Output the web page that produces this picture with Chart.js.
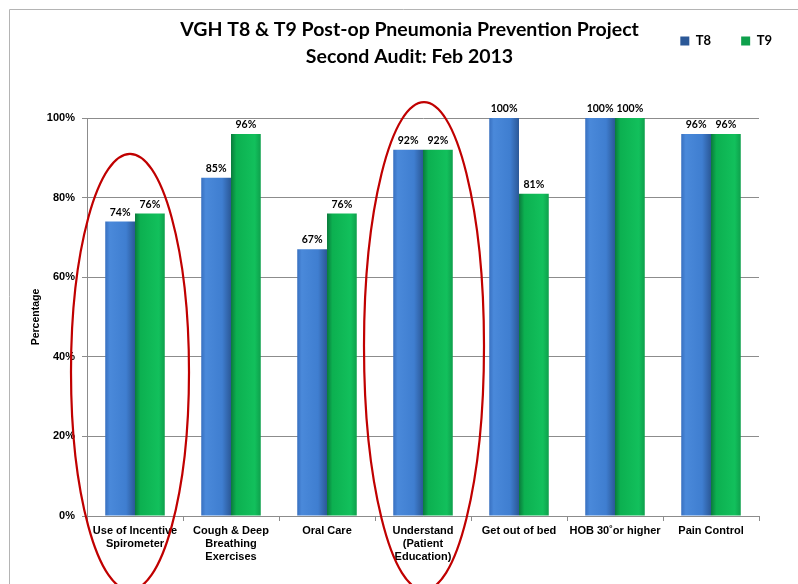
<!DOCTYPE html>
<html>
<head>
<meta charset="utf-8">
<script src="https://cdn.jsdelivr.net/npm/chart.js@4.4.0/dist/chart.umd.min.js"></script>
<style>
  html, body { margin: 0; padding: 0; background: #fff; }
  #wrap { width: 798px; height: 584px; }
</style>
</head>
<body>
<div id="wrap"><canvas id="myChart"></canvas></div>
<script>
/* ============== Data ===========*/

const categories = [
  ['Use of Incentive', 'Spirometer'],
  ['Cough & Deep', 'Breathing', 'Exercises'],
  'Oral Care',
  ['Understand', '(Patient', 'Education)'],
  'Get out of bed',
  'HOB 30˚or higher',
  'Pain Control'
];
const t8 = [74, 85, 67, 92, 100, 100, 96];
const t9 = [76, 96, 76, 92, 81, 100, 96];
const yTicks = [0, 20, 40, 60, 80, 100];
const circled = [0, 3];

/* ============== Plugins ===========*/

// thin frame round the chart, like the slide border
const frame = {
  id: 'frame',
  beforeDraw(chart) {
    const ctx = chart.ctx;
    ctx.save();
    ctx.strokeStyle = '#b4b4b4';
    ctx.lineWidth = 1;
    ctx.beginPath();
    ctx.moveTo(9.5, chart.height);
    ctx.lineTo(9.5, 9.5);
    ctx.lineTo(chart.width, 9.5);
    ctx.stroke();
    ctx.restore();
  }
};

// legend sits next to the title, title centred a bit right
const placeBoxes = {
  id: 'placeBoxes',
  afterLayout(chart) {
    const lg = chart.legend;
    const dy = lg.top - 4.5;
    lg.top -= dy;
    lg.bottom -= dy;
    lg.left += 43;
    lg.right += 43;
    const tb = chart.titleBlock;
    tb.left += 30;
    tb.right += 30;
  }
};

// percentages on top of bars
const barLabels = {
  id: 'barLabels',
  afterDatasetsDraw(chart) {
    const ctx = chart.ctx;
    ctx.save();
    ctx.font = 'bold 10.5px Lato';
    ctx.fillStyle = '#000';
    ctx.textAlign = 'center';
    ctx.textBaseline = 'bottom';
    chart.data.datasets.forEach((ds, i) => {
      chart.getDatasetMeta(i).data.forEach((bar, j) => {
        ctx.fillText(ds.data[j] + '%', bar.x, bar.y - 4);
      });
    });
    ctx.restore();
  }
};

// red hand-drawn ellipses round two categories
const ellipses = {
  id: 'ellipses',
  afterDraw(chart) {
    const ctx = chart.ctx;
    const x = chart.scales.x, y = chart.scales.y;
    const shape = [
      { dx: -5, rx: 59, top: 91 },
      { dx: 1, rx: 60, top: 104 }
    ];
    ctx.save();
    ctx.strokeStyle = '#c00000';
    ctx.lineWidth = 2.2;
    circled.forEach((idx, k) => {
      const s = shape[k];
      const top = y.getPixelForValue(s.top);
      const bottom = chart.height + 6;
      ctx.beginPath();
      ctx.ellipse(x.getPixelForValue(idx) + s.dx, (top + bottom) / 2, s.rx, (bottom - top) / 2, 0, 0, Math.PI * 2);
      ctx.stroke();
    });
    ctx.restore();
  }
};

// shaded bar fill, left to right across each bar
function barShade(stops, flat) {
  return (c) => {
    const el = c.element;
    if (!el || !isFinite(el.x) || !el.width) return flat;
    const g = c.chart.ctx.createLinearGradient(el.x - el.width / 2, 0, el.x + el.width / 2, 0);
    stops.forEach(s => g.addColorStop(s[0], s[1]));
    return g;
  };
}

/* ============== Chart ===========*/

const graf = document.getElementById('myChart');

const data = {
  labels: categories,
  datasets: [{
    label: 'T8',
    data: t8,
    backgroundColor: barShade([[0, '#3870c0'], [0.15, '#4a89da'], [0.7, '#3f7ed0'], [1, '#2b5897']], '#3f7dd0'),
    borderWidth: 0
  }, {
    label: 'T9',
    data: t9,
    backgroundColor: barShade([[0, '#0a7a3c'], [0.18, '#0cb050'], [0.8, '#12c05c'], [1, '#0ea04c']], '#06b352'),
    borderWidth: 0
  }]
};

const config = {
  type: 'bar',
  data,
  options: {
    responsive: true,
    maintainAspectRatio: false,
    animation: false,
    layout: { padding: { left: 0, right: 39, top: 0, bottom: 0 } },
    datasets: {
      bar: { categoryPercentage: 0.62, barPercentage: 1.0 }
    },
    plugins: {
      title: {
        display: true,
        text: ['VGH T8 & T9 Post-op Pneumonia Prevention Project', 'Second Audit: Feb 2013'],
        color: '#000',
        font: { family: 'Lato', size: 19.5, weight: 'bold', lineHeight: 1.385 },
        // legend box is stacked under the title, keep plot top at 118
        padding: { top: 16.5, bottom: -5.5 }
      },
      legend: {
        position: 'top',
        align: 'end',
        labels: {
          boxWidth: 9,
          boxHeight: 9,
          padding: 30,
          color: '#000',
          font: { family: 'Lato', size: 13, weight: 'bold' }
        }
      },
      tooltip: { enabled: false }
    },
    scales: {
      x: {
        afterFit: s => { s.height = 68; },
        grid: { drawOnChartArea: false, tickLength: 5, color: '#8c8c8c' },
        border: { color: '#8c8c8c' },
        ticks: {
          padding: 3,
          color: '#000',
          maxRotation: 0,
          autoSkip: false,
          font: { family: 'Liberation Sans', size: 11, weight: 'bold', lineHeight: 1.2 }
        }
      },
      y: {
        min: 0,
        max: 100,
        afterFit: s => { s.width = 87; },
        afterBuildTicks: s => { s.ticks = yTicks.map(v => ({ value: v })); },
        grid: { color: '#8c8c8c', tickLength: 5 },
        border: { color: '#8c8c8c' },
        title: {
          display: true,
          text: 'Percentage',
          color: '#000',
          font: { family: 'Liberation Sans', size: 10.5, weight: 'bold' },
          padding: { top: 30, bottom: 0 }
        },
        ticks: {
          padding: 7,
          color: '#000',
          font: { family: 'Liberation Sans', size: 11, weight: 'bold' },
          callback: v => v + '%'
        }
      }
    }
  },
  plugins: [frame, placeBoxes, barLabels, ellipses]
};

const myChart = new Chart(graf, config);
// second pass so the shading can see each bar's size
myChart.update();
</script>
</body>
</html>
